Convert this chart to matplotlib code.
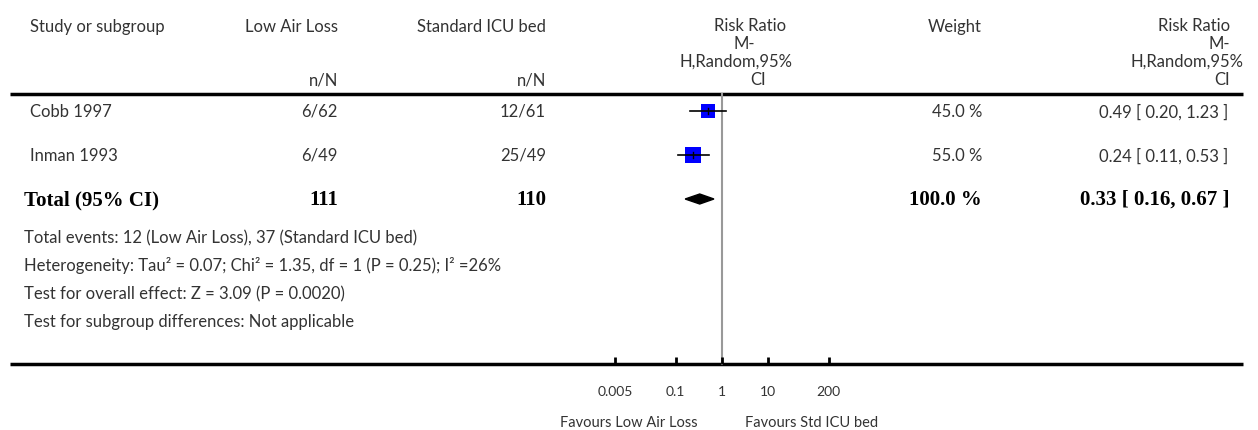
import numpy as np
import matplotlib.pyplot as plt
from matplotlib.patches import Polygon

# data
studies = ["Cobb 1997", "Inman 1993"]
events_lal = ["6/62", "6/49"]
events_icu = ["12/61", "25/49"]
rr = [0.49, 0.24]
ci_lo = [0.20, 0.11]
ci_hi = [1.23, 0.53]
weights = [45.0, 55.0]

total_n = ["111", "110"]
total_rr, total_lo, total_hi = 0.33, 0.16, 0.67

axis_ticks = [0.005, 0.1, 1, 10, 200]
axis_ticklabels = ["0.005", "0.1", "1", "10", "200"]

footnotes = [
    "Total events: 12 (Low Air Loss), 37 (Standard ICU bed)",
    "Heterogeneity: Tau\u00b2 = 0.07; Chi\u00b2 = 1.35, df = 1 (P = 0.25); I\u00b2 =26%",
    "Test for overall effect: Z = 3.09 (P = 0.0020)",
    "Test for subgroup differences: Not applicable",
]

W, H = 1258, 431
plt.rcParams['font.family'] = ['Lato', 'DejaVu Sans']
fig = plt.figure(figsize=(W / 100, H / 100), dpi=100)

# overlay axes in pixel coordinates for the table
tab = fig.add_axes([0, 0, 1, 1])
tab.set_xlim(0, W)
tab.set_ylim(H, 0)
tab.axis('off')

fs = 12
col = '#333333'
bold = dict(family='Liberation Serif', fontweight='bold', fontsize=15, color='black')

# headers
tab.text(30, 27, "Study or subgroup", fontsize=fs, color=col, va='center')
tab.text(338, 27, "Low Air Loss", fontsize=fs, color=col, va='center', ha='right')
tab.text(546, 27, "Standard ICU bed", fontsize=fs, color=col, va='center', ha='right')
tab.text(338, 81, "n/N", fontsize=fs, color=col, va='center', ha='right')
tab.text(546, 81, "n/N", fontsize=fs, color=col, va='center', ha='right')
for txt, x, y in [("Risk Ratio", 750, 26), ("M-", 744, 44), ("H,Random,95%", 736, 62), ("CI", 758, 80)]:
    tab.text(x, y, txt, fontsize=fs, color=col, va='center', ha='center')
tab.text(955, 27, "Weight", fontsize=fs, color=col, va='center', ha='center')
for txt, y in [("Risk Ratio", 26), ("M-", 44), ("H,Random,95%", 62), ("CI", 80)]:
    tab.text(1243 if txt == "H,Random,95%" else 1230, y, txt, fontsize=fs, color=col,
             va='center', ha='right')

tab.plot([10, 1243], [95, 95], color='black', lw=2.5, solid_capstyle='butt')
tab.plot([10, 1243], [365, 365], color='black', lw=2.5, solid_capstyle='butt')

row_y = [112, 156]
for i, s in enumerate(studies):
    y = row_y[i]
    tab.text(30, y, s, fontsize=fs, color=col, va='center')
    tab.text(338, y, events_lal[i], fontsize=fs, color=col, va='center', ha='right')
    tab.text(546, y, events_icu[i], fontsize=fs, color=col, va='center', ha='right')
    tab.text(982, y, f"{weights[i]:.1f} %", fontsize=fs, color=col, va='center', ha='right')
    tab.text(1228, y, f"{rr[i]:.2f} [ {ci_lo[i]:.2f}, {ci_hi[i]:.2f} ]", fontsize=fs,
             color=col, va='center', ha='right')

ty = 200
tab.text(24, ty, "Total (95% CI)", va='center', **bold)
tab.text(338, ty, total_n[0], va='center', ha='right', **bold)
tab.text(546, ty, total_n[1], va='center', ha='right', **bold)
tab.text(982, ty, f"{sum(weights):.1f} %", va='center', ha='right', **bold)
tab.text(1230, ty, f"{total_rr:.2f} [ {total_lo:.2f}, {total_hi:.2f} ]", va='center', ha='right', **bold)

for k, line in enumerate(footnotes):
    tab.text(24, 238 + 28 * k, line, fontsize=fs, color=col, va='center')

tab.text(698, 423, "Favours Low Air Loss", fontsize=10.5, color=col, va='center', ha='right')
tab.text(745, 423, "Favours Std ICU bed", fontsize=10.5, color=col, va='center', ha='left')

# forest axes: log scale, x=1 at pixel 722, ~46.3 px per decade
x0, x1 = 560, 880
ppd = 46.3
ax = fig.add_axes([x0 / W, 0, (x1 - x0) / W, 1])
ax.set_xscale('log')
ax.set_xlim(10 ** ((x0 - 722) / ppd), 10 ** ((x1 - 722) / ppd))
ax.set_ylim(H, 0)
ax.axis('off')
ax.patch.set_alpha(0)

ax.plot([1, 1], [95, 365], color='#999999', lw=1.5, zorder=1)
for i in range(len(studies)):
    y = row_y[i]
    ax.plot(rr[i], y, marker='s', color='#0000ff', markersize=weights[i] * 0.22,
            markeredgewidth=0, zorder=2)
    ax.plot([ci_lo[i], ci_hi[i]], [y, y], color='black', lw=1.2, zorder=3)
    ax.plot([rr[i], rr[i]], [y - 3, y + 3], color='black', lw=1, zorder=3)

diamond = Polygon([(total_lo, ty), (total_rr, ty - 5), (total_hi, ty), (total_rr, ty + 5)],
                  closed=True, color='black', zorder=3)
ax.add_patch(diamond)

for t, lab in zip(axis_ticks, axis_ticklabels):
    ax.plot([t, t], [358, 365], color='black', lw=2, solid_capstyle='butt')
    ax.text(t, 392, lab, fontsize=10, color=col, ha='center', va='center')

fig.savefig('out.png', dpi=100)
